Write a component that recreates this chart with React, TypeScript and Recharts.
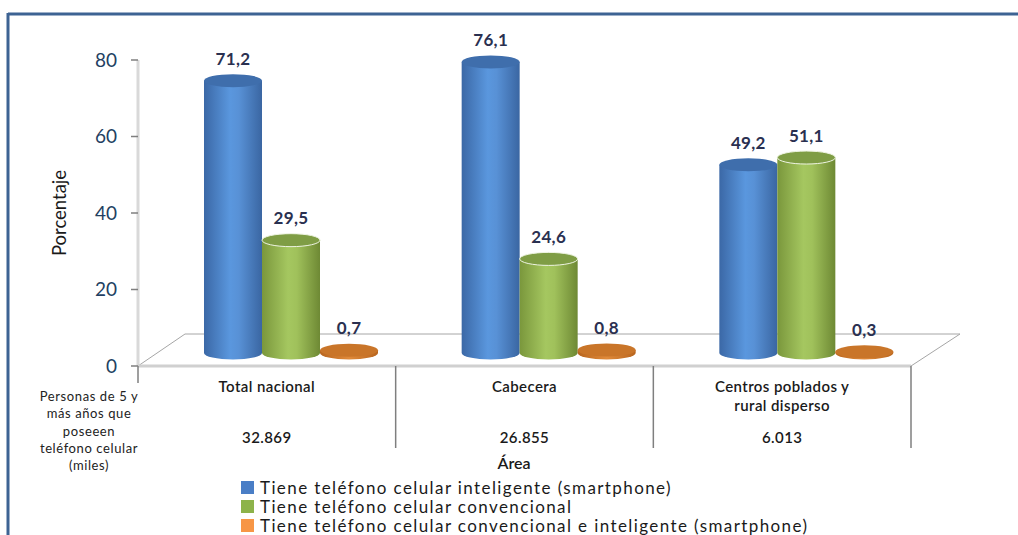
import React from 'react';
import { BarChart, Bar, XAxis, YAxis, Legend, LabelList, Customized } from 'recharts';

const categories = ['Total nacional', 'Cabecera', 'Centros poblados y\nrural disperso'];
const personasMiles = ['32.869', '26.855', '6.013'];
const smartphone = [71.2, 76.1, 49.2];
const convencional = [29.5, 24.6, 51.1];
const ambos = [0.7, 0.8, 0.3];
const seriesNames = [
  'Tiene teléfono celular inteligente (smartphone)',
  'Tiene teléfono celular convencional',
  'Tiene teléfono celular convencional e inteligente (smartphone)',
];
const yTicks = [0, 20, 40, 60, 80];
const rowLabel = ['Personas de 5 y', 'más años que', 'poseeen', 'teléfono celular', '(miles)'];

const data = categories.map((c, i) => ({
  area: c,
  s: smartphone[i],
  c: convencional[i],
  a: ambos[i],
}));

const W = 1018;
const H = 535;
const PL = 138;
const PR = 911;
const PT = 60;
const PB = 366;
const XH = 40;
const BAND = (PR - PL) / 3;
const DX = 24;
const DY = -13;
const RY = 6.5;
const FONT = 'Lato, "Open Sans", sans-serif';

const PAL = [
  { grad: 'gBlue', top: '#3F6EAC', edge: '#3A66A0', legend: '#4A7EC6' },
  { grad: 'gGreen', top: '#7F9D45', edge: '#6E8A35', legend: '#8DB34A' },
  { grad: 'gOrange', top: '#C97529', edge: '#B8661F', legend: '#F79646' },
];

function Cylinder(props: any) {
  const { x, y, width, height, pal } = props;
  if (width == null) return null;
  const p = PAL[pal];
  const rx = width / 2;
  const cx = x + rx + DX;
  const top = y + DY;
  const bottom = y + height + DY;
  const x0 = cx - rx;
  const x1 = cx + rx;
  const body = `M${x0},${top} L${x0},${bottom} A${rx},${RY} 0 0 0 ${x1},${bottom} L${x1},${top} Z`;
  return (
    <g>
      <path d={body} fill={`url(#${p.grad})`} />
      <ellipse cx={cx} cy={top} rx={rx} ry={RY} fill={p.top} stroke={pal === 1 ? '#EEF4E2' : 'none'} strokeWidth={1} />
    </g>
  );
}

function ValueLabel(props: any) {
  const { x, y, width, value } = props;
  const cx = x + width / 2 + DX;
  return (
    <text x={cx} y={y + DY - 16} textAnchor="middle" fontFamily={FONT} fontWeight={700} fontSize={17} letterSpacing={0.3} fill="#2A3050">
      {Number(value).toFixed(1).replace('.', ',')}
    </text>
  );
}

function Decor() {
  return (
    <g>
      <defs>
        <linearGradient id="gBlue" x1="0" y1="0" x2="1" y2="0">
          <stop offset="0" stopColor="#3B68A6" />
          <stop offset="0.45" stopColor="#5A97DE" />
          <stop offset="0.6" stopColor="#5891D6" />
          <stop offset="1" stopColor="#3A66A2" />
        </linearGradient>
        <linearGradient id="gGreen" x1="0" y1="0" x2="1" y2="0">
          <stop offset="0" stopColor="#7A973C" />
          <stop offset="0.45" stopColor="#A5C760" />
          <stop offset="0.6" stopColor="#A0C15B" />
          <stop offset="1" stopColor="#6E8934" />
        </linearGradient>
        <linearGradient id="gOrange" x1="0" y1="0" x2="1" y2="0">
          <stop offset="0" stopColor="#B8651E" />
          <stop offset="0.5" stopColor="#E08A3A" />
          <stop offset="1" stopColor="#B8651E" />
        </linearGradient>
      </defs>
      {/* frame */}
      <line x1={8} y1={14} x2={W} y2={14} stroke="#3D6393" strokeWidth={3} />
      <line x1={8} y1={13} x2={8} y2={H} stroke="#3D6393" strokeWidth={3} />
      {/* floor */}
      <polygon points={`${PL},${PB} ${PR},${PB} ${PR + 49},${PB - 32} ${PL + 47},${PB - 32}`} fill="#FFFFFF" stroke="#A6A6A6" strokeWidth={1} />
      {/* y axis wall line */}
      <line x1={PL} y1={PT} x2={PL} y2={PB} stroke="#D9D9D9" strokeWidth={3} />
      {/* row label */}
      {rowLabel.map((t, i) => (
        <text key={i} x={89} y={401 + i * 17.3} textAnchor="middle" fontFamily={FONT} fontSize={13} letterSpacing={0.6} fill="#222">
          {t}
        </text>
      ))}
      <text x={514} y={469} textAnchor="middle" fontFamily={FONT} fontSize={16} fontWeight={600} fill="#1a1a1a">
        Área
      </text>
    </g>
  );
}

function XTick(props: any) {
  const { payload, index } = props;
  const x = payload.coordinate;
  const lines = String(payload.value).split('\n');
  return (
    <g>
      {index === 0 && <line x1={PL} y1={PB} x2={PL} y2={PB + 17} stroke="#7F7F7F" strokeWidth={1.5} />}
      <line x1={x + BAND / 2} y1={PB} x2={x + BAND / 2} y2={448} stroke="#7F7F7F" strokeWidth={1.5} />
      {lines.map((l, i) => (
        <text key={i} x={x} y={392 + i * 19} textAnchor="middle" fontFamily={FONT} fontSize={15} letterSpacing={0.4} fontWeight={600} fill="#1a1a1a">
          {l}
        </text>
      ))}
      <text x={x} y={443} textAnchor="middle" fontFamily={FONT} fontSize={15} letterSpacing={0.4} fontWeight={600} fill="#1a1a1a">
        {personasMiles[index]}
      </text>
    </g>
  );
}

function LegendContent() {
  return (
    <div style={{ fontFamily: FONT, fontSize: 17, letterSpacing: 1.4, color: '#1a1a1a', lineHeight: '19px', textAlign: 'left' }}>
      {seriesNames.map((n, i) => (
        <div key={i} style={{ display: 'flex', alignItems: 'center', whiteSpace: 'nowrap' }}>
          <span style={{ display: 'inline-block', width: 13, height: 13, background: PAL[i].legend, marginRight: 6 }} />
          <span>{n}</span>
        </div>
      ))}
    </div>
  );
}

export default function App() {
  return (
    <div style={{ position: 'absolute', left: 0, top: 0, width: W, height: H, background: '#fff' }}>
      <BarChart
        width={W}
        height={H}
        data={data}
        margin={{ top: PT, right: W - PR, bottom: H - PB - XH, left: 58 }}
        barGap={0}
        barSize={58}
      >
        <Customized component={<Decor />} />
        <XAxis
          dataKey="area"
          height={XH}
          axisLine={{ stroke: '#D0D0D0', strokeWidth: 3 }}
          tickLine={false}
          tick={<XTick />}
          interval={0}
        />
        <YAxis
          width={80}
          domain={[0, 80]}
          ticks={yTicks}
          axisLine={false}
          tickLine={{ stroke: '#7F7F7F', strokeWidth: 1.5 }}
          tickSize={7}
          tickMargin={14}
          tick={{ fontFamily: FONT, fontSize: 19, fill: '#233F62' }}
          label={{
            content: (p: any) => (
              <text x={59} y={213} transform="rotate(-90 59 213)" textAnchor="middle" dominantBaseline="central" fontFamily={FONT} fontSize={18.5} fill="#1a1a1a">
                Porcentaje
              </text>
            ),
          }}
        />
        <Legend
          layout="horizontal"
          verticalAlign="middle"
          align="center"
          wrapperStyle={{ left: 241, top: 478, width: 760 }}
          content={<LegendContent />}
        />
        <Bar dataKey="s" name={seriesNames[0]} isAnimationActive={false} shape={(p: any) => <Cylinder {...p} pal={0} />}>
          <LabelList dataKey="s" content={<ValueLabel />} />
        </Bar>
        <Bar dataKey="c" name={seriesNames[1]} isAnimationActive={false} shape={(p: any) => <Cylinder {...p} pal={1} />}>
          <LabelList dataKey="c" content={<ValueLabel />} />
        </Bar>
        <Bar dataKey="a" name={seriesNames[2]} isAnimationActive={false} shape={(p: any) => <Cylinder {...p} pal={2} />}>
          <LabelList dataKey="a" content={<ValueLabel />} />
        </Bar>
      </BarChart>
    </div>
  );
}
